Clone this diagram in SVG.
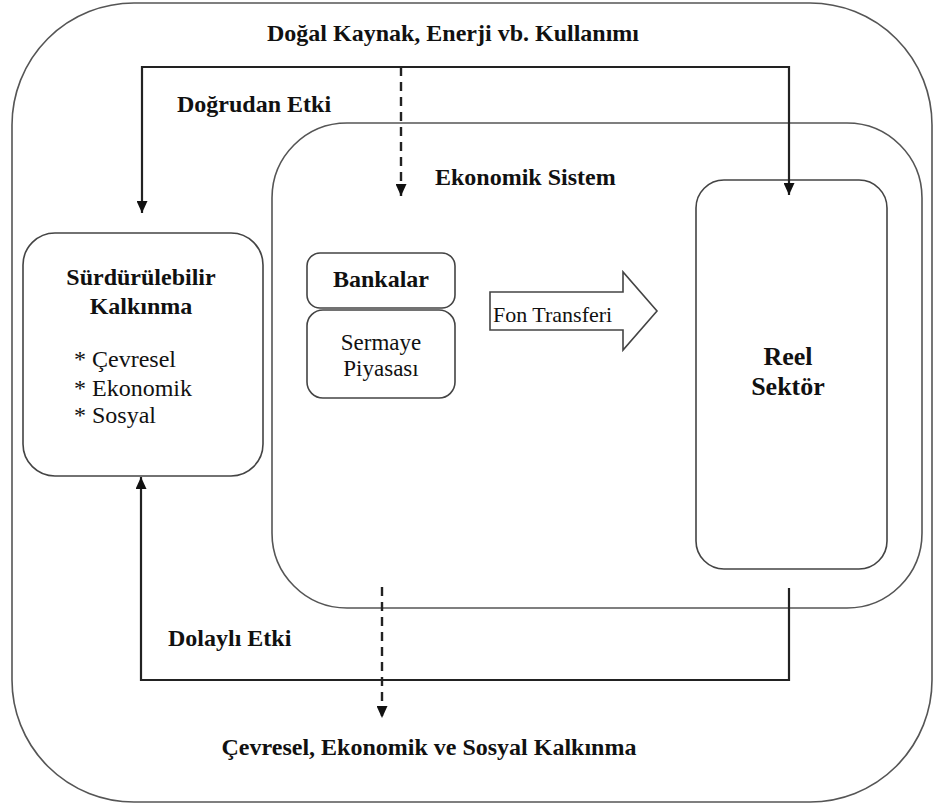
<svg xmlns="http://www.w3.org/2000/svg" width="934" height="805" viewBox="0 0 934 805">
  <style>
    .frame { fill: none; stroke: #555; stroke-width: 1.6; }
    .box { fill: #fff; stroke: #444; stroke-width: 1.6; }
    .flow { fill: none; stroke: #222; stroke-width: 2.2; }
    .dash { fill: none; stroke: #222; stroke-width: 2.4; stroke-dasharray: 9 6; }
    text { font-family: 'Liberation Serif', 'DejaVu Serif', serif; fill: #111; }
    .b { font-weight: bold; font-size: 24px; }
    .r { font-size: 24px; }
    .mid { text-anchor: middle; }
  </style>
  <defs>
    <marker id="head" markerUnits="userSpaceOnUse" markerWidth="12" markerHeight="11" refX="12" refY="5.5" orient="auto-start-reverse">
      <path d="M0,0 L12,5.5 L0,11 z" fill="#111"/>
    </marker>
  </defs>

  <rect width="934" height="805" fill="#fff"/>

  <!-- outer environment frame -->
  <g id="environment">
    <rect class="frame" x="12" y="3" width="920" height="799" rx="122" ry="122"/>
    <text class="b mid" x="453" y="41">Doğal Kaynak, Enerji vb. Kullanımı</text>
    <text class="b mid" x="429" y="755">Çevresel, Ekonomik ve Sosyal Kalkınma</text>
  </g>

  <!-- economic system -->
  <g id="economic-system">
    <rect class="frame" x="272" y="123" width="650" height="485" rx="75" ry="75"/>
    <text class="b" x="435" y="185">Ekonomik Sistem</text>
  </g>

  <g id="sustainable-development">
    <rect class="box" x="23" y="233" width="240" height="243" rx="32" ry="32"/>
    <text class="b mid" x="141" y="285">Sürdürülebilir</text>
    <text class="b mid" x="141" y="314">Kalkınma</text>
    <text class="r" x="74" y="367">* Çevresel</text>
    <text class="r" x="74" y="396">* Ekonomik</text>
    <text class="r" x="74" y="423">* Sosyal</text>
  </g>

  <g id="banks">
    <rect class="box" x="307" y="253" width="148" height="55" rx="13" ry="13"/>
    <text class="b mid" x="381" y="287">Bankalar</text>
  </g>

  <g id="capital-market">
    <rect class="box" x="307" y="310" width="148" height="88" rx="16" ry="16"/>
    <text class="mid" font-size="23" x="381" y="350">Sermaye</text>
    <text class="mid" font-size="23" x="381" y="376">Piyasası</text>
  </g>

  <g id="fund-transfer">
    <polygon class="box" points="490,292 623,292 623,272 657,311 623,350 623,330 490,330"/>
    <text font-size="22" x="493" y="322">Fon Transferi</text>
  </g>

  <g id="real-sector">
    <rect class="box" x="696" y="180" width="191" height="389" rx="28" ry="28"/>
    <text class="mid" font-weight="bold" font-size="26" x="788" y="365">Reel</text>
    <text class="mid" font-weight="bold" font-size="26" x="788" y="395">Sektör</text>
  </g>

  <!-- connectors -->
  <g id="connectors">
    <path class="flow" d="M142,213 V67 H789 V195" marker-start="url(#head)" marker-end="url(#head)"/>
    <path class="flow" d="M789,588 V680 H141 V477" marker-end="url(#head)"/>
    <path class="dash" d="M401,67 V196" marker-end="url(#head)"/>
    <path class="dash" d="M382,587 V718" marker-end="url(#head)"/>
    <text class="b" x="177" y="112">Doğrudan Etki</text>
    <text class="b" x="168" y="646">Dolaylı Etki</text>
  </g>
</svg>
